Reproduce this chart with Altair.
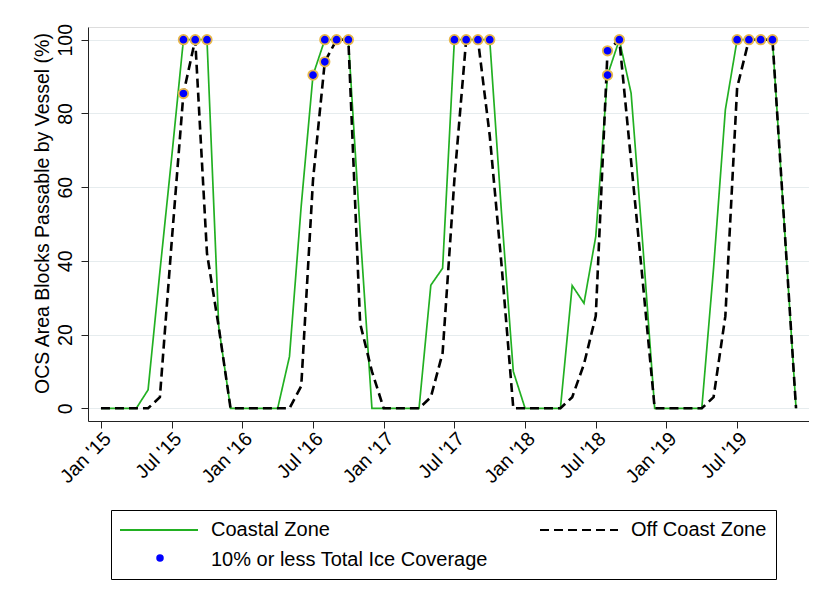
import json
import altair as alt
import pandas as pd

# ---------------- data ----------------
start_month = "2015-01"
coastal = [
    0, 0, 0, 0, 5, 37, 68, 100, 100, 100, 22, 0,          # 2015
    0, 0, 0, 0, 14, 55, 90.4, 100, 100, 100, 48, 0,      # 2016
    0, 0, 0, 0, 33.4, 38, 100, 100, 100, 100, 53, 10,    # 2017
    0, 0, 0, 0, 33.3, 28.5, 46.6, 90.4, 100, 85.5, 44, 0,  # 2018
    0, 0, 0, 0, 38, 81, 100, 100, 100, 100, 50, 0,       # 2019
]
offcoast = [
    0, 0, 0, 0, 0, 3, 45, 85.4, 100, 42, 22, 0,          # 2015
    0, 0, 0, 0, 0, 6, 62, 94, 100, 100, 23, 10,          # 2016
    0, 0, 0, 0, 3, 15, 62, 100, 100, 74, 39, 0,          # 2017
    0, 0, 0, 0, 3, 12, 25, 97, 100, 67, 34, 0,           # 2018
    0, 0, 0, 0, 3, 25, 87, 100, 100, 100, 50, 0,         # 2019
]
# markers: month index (0 = Jan 2015) and value
marker_month = [7, 7, 8, 9, 18, 19, 19, 20, 21, 30, 31, 32, 33, 43, 43, 44, 54, 55, 56, 57]
marker_value = [100, 85.4, 100, 100, 90.4, 100, 94, 100, 100, 100, 100, 100, 100,
                90.4, 97, 100, 100, 100, 100, 100]

tick_months = [0, 6, 12, 18, 24, 30, 36, 42, 48, 54]
tick_labels = ["Jan '15", "Jul '15", "Jan '16", "Jul '16", "Jan '17",
               "Jul '17", "Jan '18", "Jul '18", "Jan '19", "Jul '19"]
y_ticks = [0, 20, 40, 60, 80, 100]

SER_C = "Coastal Zone"
SER_O = "Off Coast Zone"
SER_M = "10% or less Total Ice Coverage"

GREEN = "#22b022"
BLUE = "#0000ff"
RING = "#e8b84a"
FONT = "Liberation Sans"

months = pd.period_range(start_month, periods=len(coastal), freq="M").astype(str)
df_c = pd.DataFrame({"m": range(len(coastal)), "month": months, "value": coastal, "series": SER_C})
df_o = pd.DataFrame({"m": range(len(offcoast)), "month": months, "value": offcoast, "series": SER_O})
df_m = pd.DataFrame({"m": marker_month, "value": marker_value, "marker": SER_M})

domain = [SER_C, SER_O, SER_M]
color_scale = alt.Scale(domain=domain, range=[GREEN, "#000000", "transparent"])
dash_scale = alt.Scale(domain=domain, range=[[1, 0], [9, 5], [1, 0]])

x = alt.X(
    "m:Q",
    scale=alt.Scale(domain=[-1.1, 60.1], nice=False, zero=False),
    axis=alt.Axis(
        values=tick_months,
        labelExpr=json.dumps(tick_labels) + "[round(datum.value / 6)]",
        labelAngle=315, labelAlign="right", labelBaseline="top",
        labelPadding=1, labelFontSize=19.5, labelFont=FONT, labelColor="#000",
        tickSize=7, tickColor="#222", domainColor="#222",
        grid=False, title=None,
    ),
)
y = alt.Y(
    "value:Q",
    scale=alt.Scale(domain=[-3.45, 103.45], nice=False, zero=False),
    axis=alt.Axis(
        values=y_ticks, labelAngle=270, labelAlign="center", labelBaseline="bottom",
        labelPadding=6, labelFontSize=19.5, labelFont=FONT, labelColor="#000",
        tickSize=7, tickColor="#222", domainColor="#222",
        grid=True, gridColor="#e6ecee", gridWidth=1.2,
        title="OCS Area Blocks Passable by Vessel (%)",
        titleFont=FONT, titleFontSize=19.5, titleFontWeight="normal", titleColor="#000",
        titleAngle=270, titleAlign="center", titleBaseline="bottom",
        titleX=-36, titleY=186,
    ),
)

# main legend (lines + label of the marker entry)
legend_lines = alt.Legend(
    title=None, orient="none", legendX=23, legendY=483, columns=2, direction="horizontal",
    symbolType="M-4,0L4,0", symbolSize=380.25, symbolStrokeWidth=2, symbolOpacity=1,
    symbolOffset=28, labelOffset=41,
    labelFontSize=20, labelFont=FONT, labelColor="#000", labelLimit=500,
    columnPadding=48, rowPadding=9, padding=9,
    strokeColor="#000", fillColor="#fff",
)
# small legend that only draws the marker symbol
legend_marker = alt.Legend(
    title=None, orient="none", legendX=67, legendY=526,
    symbolType="circle", symbolSize=56, symbolFillColor=BLUE, symbolStrokeColor=RING,
    symbolStrokeWidth=1.5, symbolOpacity=1, labelExpr="''", labelFontSize=10, padding=0,
)

color = alt.Color("series:N", scale=color_scale, legend=legend_lines)
dash = alt.StrokeDash("series:N", scale=dash_scale, legend=legend_lines)

line_c = alt.Chart(df_c).mark_line(strokeWidth=1.7).encode(x=x, y=y, color=color, strokeDash=dash)
line_o = alt.Chart(df_o).mark_line(strokeWidth=2.6).encode(x=x, y=y, color=color, strokeDash=dash)
pts = alt.Chart(df_m).mark_point(
    filled=True, fill=BLUE, size=90, stroke=RING, strokeWidth=1.8, opacity=1
).encode(
    x=x, y=y,
    shape=alt.Shape("marker:N", scale=alt.Scale(domain=[SER_M], range=["circle"]), legend=legend_marker),
)

chart = (
    alt.layer(line_c, line_o, pts)
    .properties(
        width=721, height=394,
        padding={"left": 80, "top": 19, "right": 0, "bottom": 180},
        autosize=alt.AutoSizeParams(type="none"),
        background="#ffffff",
    )
    .configure_view(stroke=None)
    .configure(font=FONT)
)

chart.save("out.html", embed_options={"renderer": "svg", "actions": False})
